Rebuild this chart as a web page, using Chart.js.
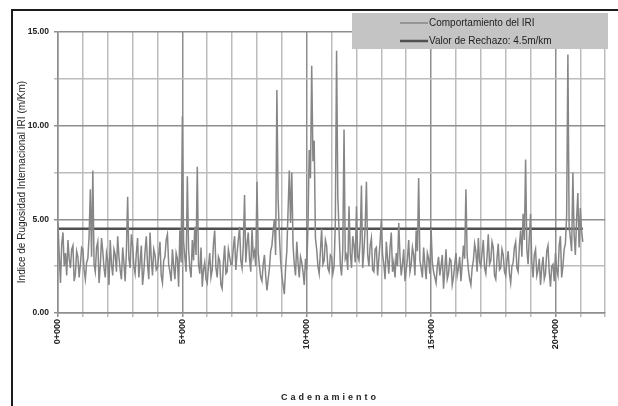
<!DOCTYPE html>
<html>
<head>
<meta charset="utf-8">
<script src="https://cdn.jsdelivr.net/npm/chart.js@4.4.1/dist/chart.umd.min.js"></script>
<style>
    html, body { margin: 0; padding: 0; background: #fff; overflow: hidden; }
    #wrap { position: relative; width: 618px; height: 406px; }
    #marco { position: absolute; left: 11px; top: 9px; width: 700px; height: 500px;
             border-left: 2px solid #1c1c1c; border-top: 2px solid #1c1c1c; }
    canvas { position: absolute; left: 0; top: 0; }
</style>
</head>
<body>
<div id="wrap">
    <div id="marco"></div>
    <canvas id="myChart" width="618" height="406"></canvas>
</div>
<script>
// IRI medido cada 50 m (km 0+000 a 21+100)
const pasoKm = 0.05;
const iri = [
    4.8, 3.1, 1.6, 3.7, 4.3, 2.5, 3.2, 2.0, 3.9, 2.9, 2.4, 3.4, 3.6, 1.7, 2.1, 3.3, 3.0, 1.9, 2.6, 3.5,
    3.4, 2.3, 1.8, 2.7, 2.9, 4.1, 6.6, 3.0, 7.6, 2.6, 2.2, 3.5, 3.8, 1.6, 2.5, 4.0, 3.3, 2.4, 1.9, 3.2,
    2.8, 1.5, 3.9, 2.6, 2.0, 3.4, 3.1, 2.2, 4.1, 3.0, 2.3, 1.8, 3.5, 2.7, 1.7, 3.3, 6.2, 2.9, 2.4, 4.2,
    3.6, 2.5, 2.1, 3.2, 4.0, 1.9, 2.7, 3.6, 1.5, 2.2, 3.3, 4.1, 2.6, 1.8, 4.3, 2.9, 2.0, 3.4, 3.1, 2.3,
    2.4, 3.1, 3.8, 2.0, 1.6, 2.8, 3.0, 3.9, 4.2, 2.6, 2.2, 1.7, 3.4, 2.5, 1.8, 3.2, 2.9, 1.4, 4.4, 2.7,
    10.5, 3.8, 3.0, 2.2, 7.3, 3.4, 2.4, 1.9, 3.9, 2.8, 4.6, 3.1, 7.8, 2.6, 2.1, 3.5, 1.4, 2.3, 2.7, 1.8,
    1.6, 2.5, 3.2, 1.9, 2.3, 3.7, 4.4, 2.4, 1.9, 3.0, 2.8, 1.5, 1.3, 2.7, 3.6, 2.1, 2.2, 3.4, 3.0, 2.6,
    2.6, 3.5, 4.1, 2.3, 3.2, 3.9, 4.6, 2.8, 2.4, 3.6, 6.3, 2.7, 3.7, 4.3, 2.9, 2.2, 4.5, 3.0, 3.3, 2.5,
    7.0, 3.2, 2.5, 1.9, 1.7, 2.6, 3.1, 2.0, 1.2, 1.8, 2.4, 3.3, 3.6, 4.4, 5.0, 3.1, 11.9, 6.1, 4.2, 2.8,
    2.0, 1.5, 1.0, 2.4, 3.3, 5.5, 7.6, 4.8, 7.5, 3.6, 2.6, 2.0, 3.8, 2.7, 1.9, 3.0, 2.7, 2.2, 1.5, 2.9,
    2.3, 4.6, 8.7, 7.2, 13.2, 8.1, 9.2, 4.0, 3.4, 2.5, 2.1, 3.3, 4.5, 2.6, 2.8, 3.9, 3.6, 2.4, 2.2, 3.1,
    3.0, 2.1, 2.5, 4.8, 14.0, 6.2, 4.4, 2.6, 2.0, 3.4, 9.8, 2.9, 3.1, 2.3, 5.7, 3.2, 2.4, 4.1, 3.6, 2.7,
    5.7, 3.0, 2.8, 3.9, 6.8, 2.4, 3.3, 4.6, 7.0, 3.1, 2.5, 3.6, 4.0, 2.3, 2.2, 3.4, 3.5, 2.0, 2.9, 3.8,
    5.0, 3.1, 2.6, 1.8, 3.8, 2.9, 2.1, 3.5, 4.3, 2.2, 2.7, 1.9, 3.2, 2.5, 4.8, 3.0, 2.0, 2.6, 3.4, 1.7,
    2.3, 2.9, 3.9, 2.2, 2.6, 3.5, 3.1, 2.0, 4.4, 3.3, 7.2, 2.8, 2.4, 1.9, 3.5, 2.6, 1.8, 3.2, 2.9, 2.1,
    4.5, 2.7, 2.2, 1.9, 1.6, 2.5, 3.0, 2.0, 2.5, 3.1, 1.3, 2.3, 3.4, 1.8, 2.1, 2.9, 2.8, 1.5, 1.9, 2.6,
    3.2, 2.0, 2.4, 3.0, 1.7, 2.6, 3.6, 2.9, 6.6, 3.1, 2.3, 1.8, 1.5, 2.4, 2.8, 3.7, 3.3, 2.2, 4.0, 2.7,
    2.5, 3.2, 3.9, 2.4, 2.1, 3.0, 4.2, 2.6, 2.8, 3.8, 3.5, 2.0, 1.8, 2.9, 3.7, 2.3, 2.4, 3.4, 3.1, 2.2,
    2.0, 2.8, 3.3, 2.1, 1.6, 2.5, 2.7, 3.5, 3.8, 2.4, 2.2, 3.6, 4.4, 3.0, 5.3, 3.9, 8.2, 3.4, 2.6, 4.1,
    5.3, 2.7, 1.9, 3.1, 3.4, 2.0, 2.3, 2.9, 1.5, 2.4, 3.0, 1.8, 2.1, 3.3, 3.6, 2.2, 1.4, 2.5, 2.6, 1.7,
    3.2, 2.3, 2.0, 3.6, 4.1, 1.9, 2.5, 3.4, 3.7, 5.2, 13.8, 4.6, 4.0, 3.3, 7.5, 4.2, 3.1, 5.0, 6.4, 3.5,
    5.6, 4.4, 3.8
];
const valorRechazo = 4.5;
const tramoRechazo = [0, 21.1];
const etiquetasKm = { 0: '0+000', 5: '5+000', 10: '10+000', 15: '15+000', 20: '20+000' };
const etiquetasIri = { 0: '0.00', 5: '5.00', 10: '10.00', 15: '15.00' };
const nombres = ['Comportamiento del IRI', 'Valor de Rechazo: 4.5m/km'];

const fuente = '"Liberation Sans", Arial, sans-serif';

const puntosIri = iri.map((v, i) => ({ x: +(i * pasoKm).toFixed(2), y: v }));
const puntosRechazo = tramoRechazo.map(k => ({ x: k, y: valorRechazo }));

const gridColor = (c) => (c.tick && c.tick.value % 5 === 0) ? '#8e8e8e' : '#bcbcbc';

const decoracion = {
    id: 'decoracion',
    afterDraw(chart) {
        const ctx = chart.ctx;
        ctx.save();
        // leyenda
        ctx.fillStyle = '#c4c4c4';
        ctx.fillRect(352, 13, 256, 36);
        ctx.font = '10px ' + fuente;
        ctx.textBaseline = 'middle';
        ctx.textAlign = 'left';
        const filas = [23, 41];
        chart.data.datasets.forEach((ds, i) => {
            ctx.strokeStyle = ds.borderColor;
            ctx.lineWidth = ds.borderWidth;
            ctx.beginPath();
            ctx.moveTo(400, filas[i]);
            ctx.lineTo(428, filas[i]);
            ctx.stroke();
            ctx.fillStyle = '#222';
            ctx.fillText(ds.label, 429, filas[i]);
        });
        // titulo eje y
        ctx.save();
        ctx.translate(22, 182);
        ctx.rotate(-Math.PI / 2);
        ctx.textAlign = 'center';
        ctx.font = '10px ' + fuente;
        ctx.fillText('Indice de Rugosidad Internacional IRI (m/Km)', 0, 0);
        ctx.restore();
        // titulo eje x
        ctx.font = 'bold 9px ' + fuente;
        ctx.letterSpacing = '3px';
        ctx.textAlign = 'center';
        ctx.fillText('Cadenamiento', 330, 398);
        ctx.restore();
    }
};

const ctx = document.getElementById('myChart').getContext('2d');
new Chart(ctx, {
    type: 'line',
    data: {
        datasets: [{
            label: nombres[0],
            data: puntosIri,
            borderColor: '#868686',
            borderWidth: 1.5,
            pointRadius: 0,
            tension: 0
        }, {
            label: nombres[1],
            data: puntosRechazo,
            borderColor: '#505050',
            borderWidth: 2.5,
            pointRadius: 0,
            tension: 0
        }]
    },
    options: {
        responsive: false,
        animation: false,
        devicePixelRatio: 1,
        layout: { padding: { top: 32, right: 10, left: 0, bottom: 0 } },
        plugins: {
            legend: { display: false },
            tooltip: { enabled: false }
        },
        scales: {
            x: {
                type: 'linear',
                min: 0,
                max: 22,
                afterFit: (s) => { s.height = 93; },
                grid: { color: gridColor, lineWidth: 1.5, tickLength: 4, drawTicks: true },
                border: { color: '#8e8e8e', width: 1.5 },
                ticks: {
                    stepSize: 1,
                    autoSkip: false,
                    minRotation: 90,
                    maxRotation: 90,
                    padding: 2,
                    color: '#222',
                    font: { family: fuente, size: 9, weight: 'bold' },
                    callback: (v) => etiquetasKm[v] || ''
                }
            },
            y: {
                min: 0,
                max: 15,
                afterFit: (s) => { s.width = 58; },
                grid: { color: gridColor, lineWidth: 1.5, tickLength: 4 },
                border: { color: '#8e8e8e', width: 1.5 },
                ticks: {
                    stepSize: 2.5,
                    autoSkip: false,
                    padding: 5,
                    color: '#222',
                    font: { family: fuente, size: 8.5, weight: 'bold' },
                    callback: (v) => etiquetasIri[v] || ''
                }
            }
        }
    },
    plugins: [decoracion]
});
</script>
</body>
</html>
